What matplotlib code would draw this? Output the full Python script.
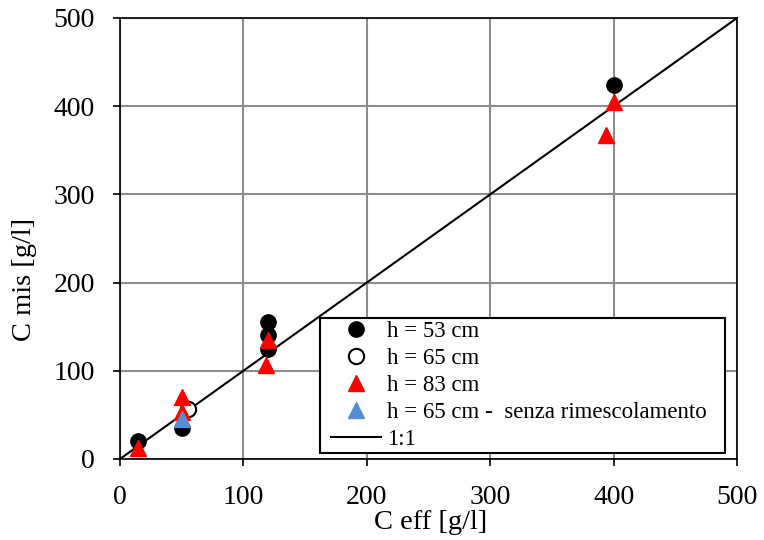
import numpy as np
import matplotlib
matplotlib.use("Agg")
import matplotlib.pyplot as plt
from matplotlib.lines import Line2D
from matplotlib.legend_handler import HandlerLine2D

plt.rcParams['font.family'] = ['Liberation Serif', 'DejaVu Serif']

# data
c_eff_53 = [15, 50, 120, 120, 120, 400]
c_mis_53 = [20, 35, 155, 141, 125, 424]

c_eff_65 = [55]
c_mis_65 = [57]

c_eff_83 = [15, 50, 50, 118, 120, 394, 400]
c_mis_83 = [13, 70, 53, 107, 135, 367, 405]

c_eff_65b = [50]
c_mis_65b = [45]

line_x = [0, 500]

fig = plt.figure(figsize=(7.64, 5.40), dpi=100)
ax = fig.add_axes([0.157, 0.15, 0.808, 0.817])

ax.plot(c_eff_65, c_mis_65, 'o', markerfacecolor='white', markeredgecolor='black',
        markeredgewidth=1.5, markersize=11, label='h = 65 cm', zorder=3)
ax.plot(c_eff_53, c_mis_53, 'o', color='black', markersize=11, label='h = 53 cm', zorder=3)
ax.plot(c_eff_83, c_mis_83, '^', color='#ff0000', markersize=11, label='h = 83 cm', zorder=4)
ax.plot(c_eff_65b, c_mis_65b, '^', color='#558ed5', markersize=11,
        label='h = 65 cm -  senza rimescolamento', zorder=4)
ax.plot(line_x, line_x, '-', color='black', linewidth=1.5, label='1:1', zorder=2)

ax.set_xlim(0, 500)
ax.set_ylim(0, 500)
ax.set_xticks(np.arange(0, 501, 100))
ax.set_yticks(np.arange(0, 501, 100))
ax.grid(True, color='#8c8c8c', linewidth=1.5)
ax.set_axisbelow(True)
for s in ax.spines.values():
    s.set_color('black')
    s.set_linewidth(1.2)
ax.tick_params(direction='out', length=5, width=1.2, labelsize=20)
ax.tick_params(axis='x', pad=13.5)
ax.tick_params(axis='y', pad=13)

ax.set_xlabel('C eff [g/l]', fontsize=20.5)
ax.set_ylabel('C mis [g/l]', fontsize=20.5)
ax.xaxis.set_label_coords(0.504, -0.115)
ax.yaxis.set_label_coords(-0.135, 0.406)

handles, labels = ax.get_legend_handles_labels()
order = [1, 0, 2, 3, 4]
leg = ax.legend([handles[i] for i in order], [labels[i] for i in order],
                loc='lower left', bbox_to_anchor=(0.324, 0.0136, 0.656, 0.301),
                mode='expand', fontsize=16.5, frameon=True, fancybox=False,
                edgecolor='black', framealpha=1, labelspacing=0.25,
                handlelength=2.5, handletextpad=0.28, borderaxespad=0,
                borderpad=0.15, handler_map={Line2D: HandlerLine2D(xpad=0.35)})
leg.get_frame().set_linewidth(1.5)

fig.savefig('out.png', dpi=100)
